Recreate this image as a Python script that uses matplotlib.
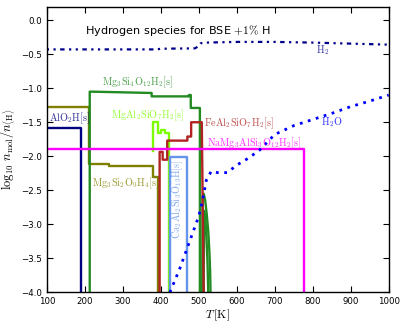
import numpy as np
import matplotlib
matplotlib.use("Agg")
import matplotlib.pyplot as plt

plt.rcParams["mathtext.fontset"] = "cm"
plt.rcParams["font.family"] = "DejaVu Sans"

# ---- data (T in K, log10 n_mol/n_<H>) ----
# gas species
T_h2 = [100, 200, 300, 390, 400, 490, 500, 505, 520, 600, 700, 800, 900, 1000]
y_h2 = [-0.43, -0.43, -0.43, -0.43, -0.42, -0.415, -0.38, -0.34, -0.33, -0.32, -0.32, -0.33, -0.345, -0.36]

T_h2o = [424, 450, 476, 500, 510, 520, 533, 550, 575, 600, 630, 660, 700, 750, 800, 850, 900, 950, 1000]
y_h2o = [-4.0, -3.65, -3.25, -2.88, -2.65, -2.35, -2.22, -2.24, -2.24, -2.13, -2.03, -1.91, -1.68, -1.55, -1.46, -1.37, -1.27, -1.19, -1.10]

# condensates
T_alo2h = [100, 190, 190]
y_alo2h = [-1.59, -1.59, -4.0]

T_mg3si2 = [100, 210, 210, 265, 265, 380, 380, 393, 393]
y_mg3si2 = [-1.27, -1.27, -2.11, -2.11, -2.14, -2.14, -2.30, -2.30, -4.0]

T_mg3si4 = [213, 213, 376, 376, 474, 474, 479, 479, 503, 503]
y_mg3si4 = [-4.0, -1.05, -1.07, -1.12, -1.12, -1.10, -1.10, -1.29, -1.29, -4.0]

T_mgal2 = [380, 380, 394, 394, 401, 401, 411, 411, 421, 421]
y_mgal2 = [-1.92, -1.50, -1.50, -1.66, -1.66, -1.62, -1.62, -1.66, -1.66, -4.0]

T_feal2 = [397, 397, 405, 405, 417, 417, 470, 470, 480, 480, 508, 510, 513]
y_feal2 = [-4.0, -1.935, -1.935, -2.05, -2.05, -1.77, -1.77, -1.71, -1.71, -1.50, -1.50, -2.5, -4.0]

T_ca2al2 = [424, 424, 468, 468]
y_ca2al2 = [-4.0, -2.01, -2.01, -4.0]

T_namg3 = [100, 776, 776]
y_namg3 = [-1.90, -1.90, -4.0]

# unlabelled green bits near 510-530 K
T_gr1 = [509, 510, 513, 517, 521, 525, 528, 530, 531]
y_gr1 = [-4.0, -2.60, -2.55, -2.65, -2.85, -3.10, -3.40, -3.70, -4.0]
T_gr2 = [513, 514, 517, 520, 523, 525]
y_gr2 = [-4.0, -2.80, -2.90, -3.15, -3.55, -4.0]

lw = 1.7
fig = plt.figure(figsize=(4.07, 3.26), dpi=100)
ax = fig.add_axes([0.115, 0.103, 0.84, 0.877])

ax.plot(T_alo2h, y_alo2h, color="navy", lw=lw)
ax.plot(T_mg3si2, y_mg3si2, color="olive", lw=lw)
ax.plot(T_mg3si4, y_mg3si4, color="forestgreen", lw=lw)
ax.plot(T_gr1, y_gr1, color="forestgreen", lw=lw)
ax.plot(T_gr2, y_gr2, color="forestgreen", lw=lw)
ax.plot(T_mgal2, y_mgal2, color="lawngreen", lw=lw)
ax.plot(T_feal2, y_feal2, color="firebrick", lw=lw)
ax.plot(T_ca2al2, y_ca2al2, color="cornflowerblue", lw=lw)
ax.plot(T_namg3, y_namg3, color="magenta", lw=lw)
# H2: small dots with a short dash now and then
ax.plot(T_h2, y_h2, color="darkblue", lw=1.6, linestyle=(0, (1, 2, 1, 2, 2, 2)))
ax.plot(T_h2o, y_h2o, color="blue", lw=2.0, linestyle=(0, (1, 2.0)))

# labels
fs = 7.3
al = 0.8
ax.text(107, -1.445, r"$\rm AlO_2H[s]$", color="navy", fontsize=fs, alpha=al, va="center")
ax.text(218, -2.40, r"$\rm Mg_3Si_2O_9H_4[s]$", color="olive", fontsize=fs, alpha=al, va="center")
ax.text(244, -0.907, r"$\rm Mg_3Si_4O_{12}H_2[s]$", color="forestgreen", fontsize=fs, alpha=al, va="center")
ax.text(269, -1.40, r"$\rm MgAl_2SiO_7H_2[s]$", color="lawngreen", fontsize=fs, alpha=al, va="center")
ax.text(515, -1.52, r"$\rm FeAl_2SiO_7H_2[s]$", color="firebrick", fontsize=fs, alpha=al, va="center")
ax.text(521, -1.81, r"$\rm NaMg_3AlSi_3O_{12}H_2[s]$", color="magenta", fontsize=fs, alpha=al, va="center")
ax.text(444.6, -2.63, r"$\rm Ca_2Al_2Si_3O_{13}H[s]$", color="cornflowerblue", fontsize=fs, alpha=al,
        rotation=90, ha="center", va="center")
ax.text(808, -0.44, r"$\rm H_2$", color="darkblue", fontsize=fs, alpha=al, va="center")
ax.text(822, -1.495, r"$\rm H_2O$", color="blue", fontsize=fs, alpha=al, va="center")

ax.text(200, -0.148, r"Hydrogen species for BSE $+1\%$ H", fontsize=8.1, va="center")

ax.set_xlim(100, 1000)
ax.set_ylim(-4.0, 0.2)
ax.set_xticks(np.arange(100, 1001, 100))
ax.set_yticks(np.arange(-4.0, 0.01, 0.5))
ax.tick_params(direction="in", top=True, right=True, labelsize=6.2, length=4, width=0.8)
for sp in ax.spines.values():
    sp.set_linewidth(1.0)

ax.set_xlabel(r"$T\,[\rm K]$", fontsize=8.5, labelpad=1)
ax.set_ylabel(r"$\log_{10}\,n_{\rm mol}/n_{\langle{\rm H}\rangle}$", fontsize=9, labelpad=2)

plt.savefig("out.png", dpi=100)
